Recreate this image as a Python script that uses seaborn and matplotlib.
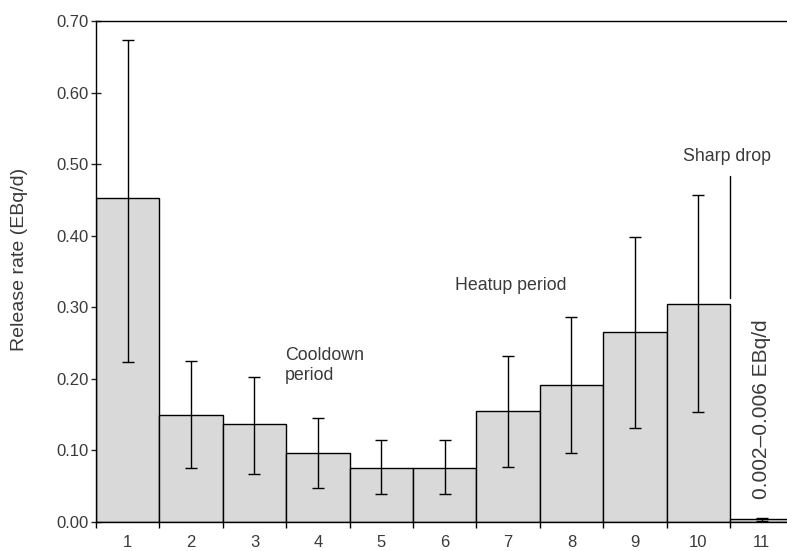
import matplotlib
matplotlib.use("Agg")
import matplotlib.pyplot as plt
import seaborn as sns
import pandas as pd
import numpy as np

periods = [1, 2, 3, 4, 5, 6, 7, 8, 9, 10, 11]
rates = [0.452, 0.150, 0.137, 0.096, 0.075, 0.075, 0.155, 0.191, 0.266, 0.305, 0.004]
err_low = [0.224, 0.075, 0.067, 0.047, 0.039, 0.039, 0.077, 0.096, 0.132, 0.153, 0.002]
err_high = [0.673, 0.225, 0.203, 0.145, 0.114, 0.114, 0.232, 0.287, 0.398, 0.457, 0.006]
ytick_vals = [0.0, 0.1, 0.2, 0.3, 0.4, 0.5, 0.6, 0.7]

sns.set_theme(style="ticks")
plt.rcParams['font.family'] = ['Liberation Sans', 'DejaVu Sans']

TXT = "#3a3a3a"
df = pd.DataFrame({"period": periods, "rate": rates})

fig = plt.figure(figsize=(7.87, 5.51), dpi=100)
ax = fig.add_axes([0.122, 0.0526, 0.878, 0.9094])

sns.barplot(data=df, x="period", y="rate", native_scale=True, width=1.0,
            color="#d9d9d9", edgecolor="black", linewidth=1.0, saturation=1,
            errorbar=None, ax=ax)

r = np.array(rates)
yerr = np.vstack([r - np.array(err_low), np.array(err_high) - r])
ax.errorbar(periods, rates, yerr=yerr, fmt="none", ecolor="black",
            elinewidth=1.0, capsize=4.5, capthick=1.0)

ax.set_xlim(0.5, 11.4)
ax.set_ylim(0, 0.70)
ax.set_yticks(ytick_vals)
ax.set_yticklabels([f"{v:.2f}" for v in ytick_vals])
ax.set_xticks(periods)
ax.set_xticklabels([str(p) for p in periods])
ax.set_xticks(np.arange(0.5, 11.0, 1.0), minor=True)
ax.tick_params(axis="x", which="major", length=0, pad=9, labelsize=12, labelcolor=TXT)
ax.tick_params(axis="x", which="minor", length=4.5, width=1.0, direction="out", color="black")
ax.tick_params(axis="y", which="major", length=7, width=1.0, direction="inout",
               labelsize=12, labelcolor=TXT, pad=2)

for s in ["left", "bottom", "top"]:
    ax.spines[s].set_visible(True)
    ax.spines[s].set_color("black")
    ax.spines[s].set_linewidth(1.0)
ax.spines["right"].set_visible(False)

ax.set_xlabel("")
ax.set_ylabel("Release rate (EBq/d)", fontsize=14, color=TXT)
ax.yaxis.set_label_coords(-0.099, 0.525)

ax.text(3.48, 0.233, "Cooldown", fontsize=12.8, color=TXT, ha="left", va="center")
ax.text(3.48, 0.205, "period", fontsize=12.8, color=TXT, ha="left", va="center")
ax.text(7.05, 0.330, "Heatup period", fontsize=12.8, color=TXT, ha="center", va="center")
ax.text(10.45, 0.511, "Sharp drop", fontsize=12.8, color=TXT, ha="center", va="center")
ax.plot([10.5, 10.5], [0.313, 0.483], color="black", linewidth=1.0)
ax.text(10.99, 0.158, "0.002\u20130.006 EBq/d", fontsize=15, color=TXT,
        rotation=90, ha="center", va="center")

fig.savefig("out.png", dpi=100)
